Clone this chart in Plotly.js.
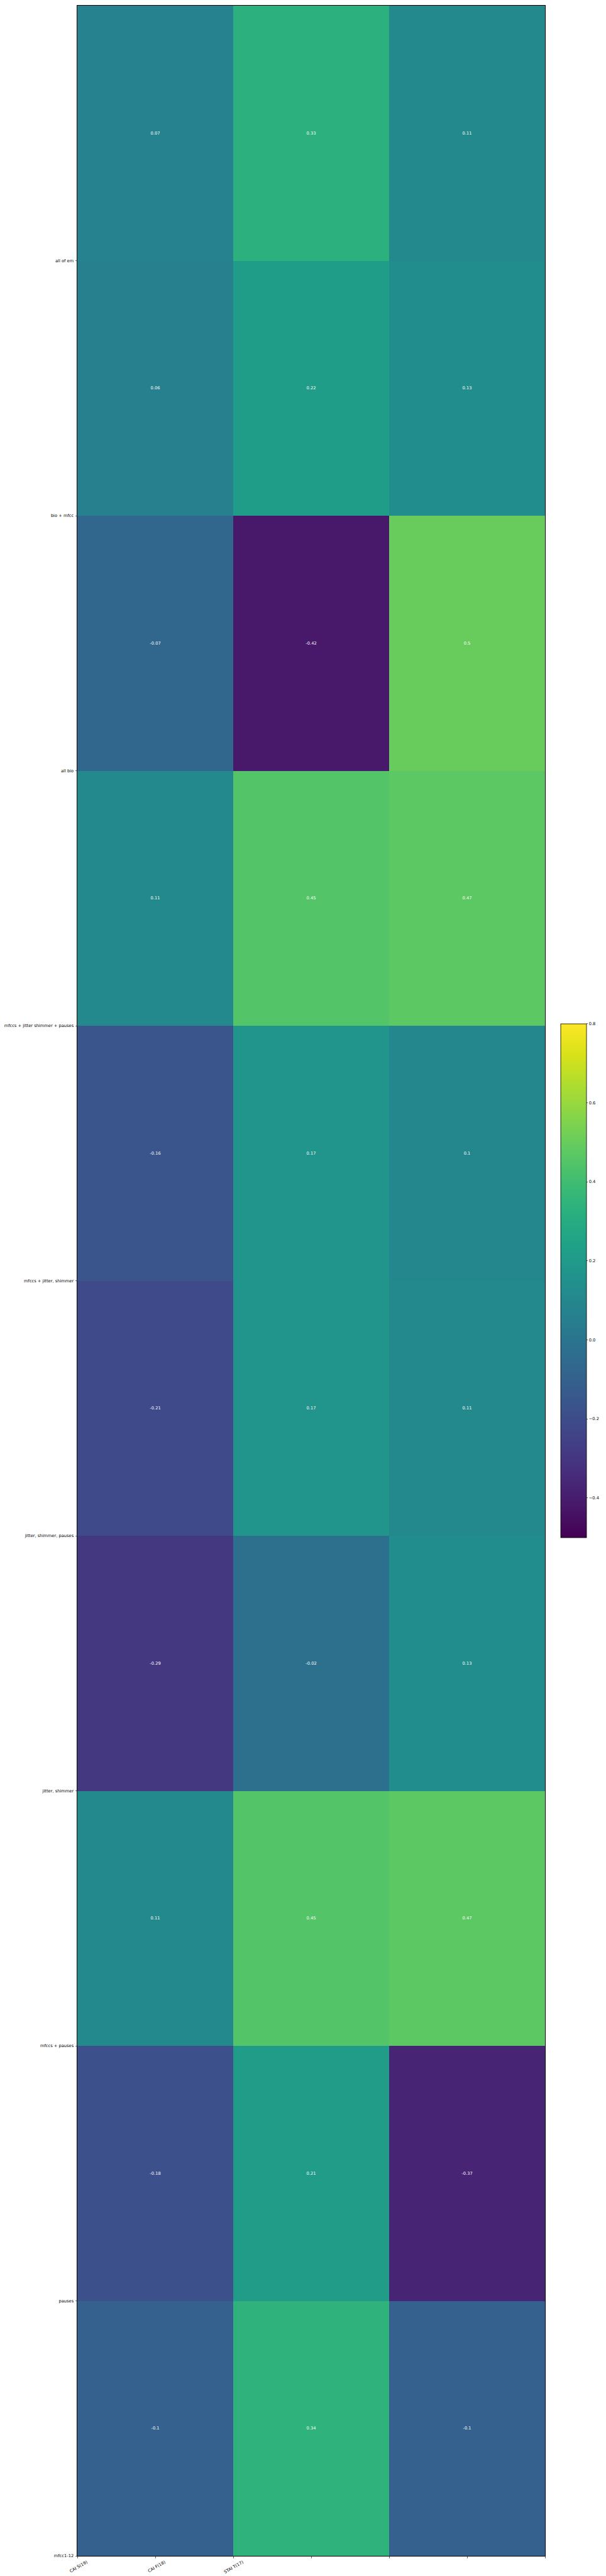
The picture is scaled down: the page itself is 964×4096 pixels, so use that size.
<!DOCTYPE html>
<html>
<head>
<meta charset="utf-8">
<script src="https://cdn.plot.ly/plotly-3.0.1.min.js"></script>
<style>html,body{margin:0;padding:0;background:#fff;}#chart{width:964px;height:4096px;}</style>
</head>
<body>
<div id="chart"></div>
<script>
// ---- data ----
const xLabels = ['CAI S(19)', 'CAI F(18)', 'STAI T(17)'];
const yLabels = [
  'all of em',
  'bio + mfcc',
  'all bio',
  'mfccs + jitter shimmer + pauses',
  'mfccs + jitter, shimmer',
  'jitter, shimmer, pauses',
  'jitter, shimmer',
  'mfccs + pauses',
  'pauses',
  'mfcc1-12'
];
const caiS  = [0.07, 0.06, -0.07, 0.11, -0.16, -0.21, -0.29, 0.11, -0.18, -0.1];
const caiF  = [0.33, 0.22, -0.42, 0.45, 0.17, 0.17, -0.02, 0.45, 0.21, 0.34];
const staiT = [0.11, 0.13, 0.5, 0.47, 0.1, 0.11, 0.13, 0.47, -0.37, -0.1];
const colorbarTicks = [-0.4, -0.2, 0.0, 0.2, 0.4, 0.6, 0.8];

// ---- build matrix ----
const z = yLabels.map((_, i) => [caiS[i], caiF[i], staiT[i]]);
const txt = z.map(r => r.map(v => String(v)));

const S = 0.669;
const W = 964, H = 4096;
const plotL = 184 * S, plotR = 1299 * S, plotT = 14 * S, plotB = 6074 * S;
const plotW = plotR - plotL, plotH = plotB - plotT;
const fs = 6.7;
const font = 'DejaVu Sans, sans-serif';

// x ticks at cell edges and midpoints, labels on the first three
const xTickVals = [];
for (let k = 0; k <= xLabels.length * 2; k++) xTickVals.push(k / 2);
const xTickText = xTickVals.map((v, k) => (k < xLabels.length ? xLabels[k] : ''));
const yTickVals = yLabels.map((_, i) => i + 1);

const trace = {
  type: 'heatmap',
  z: z,
  x0: 0.5, dx: 1,
  y0: 0.5, dy: 1,
  text: txt,
  texttemplate: '%{text}',
  textfont: {family: font, size: fs, color: '#ffffff'},
  colorscale: 'Viridis',
  zmin: -0.5, zmax: 0.8,
  hoverinfo: 'skip',
  colorbar: {
    x: (1337 * S - plotL) / plotW, xanchor: 'left',
    y: 1 - ((2433 + 3654) / 2 * S - plotT) / plotH, yanchor: 'middle',
    len: (3654 - 2433) * S / plotH, lenmode: 'fraction',
    thickness: (1398 - 1337) * S, thicknessmode: 'pixels',
    xpad: 0, ypad: 0,
    outlinewidth: 0.8, outlinecolor: '#000',
    tickvals: colorbarTicks,
    tickformat: '.1f',
    ticks: 'outside', ticklen: 2.5, tickwidth: 0.6, tickcolor: '#000',
    tickfont: {family: font, size: fs, color: '#000'}
  }
};

const layout = {
  width: W, height: H,
  margin: {l: plotL, r: W - plotR, t: plotT, b: H - plotB, pad: 0},
  paper_bgcolor: '#fff', plot_bgcolor: '#fff',
  showlegend: false,
  xaxis: {
    range: [0, xLabels.length],
    tickmode: 'array', tickvals: xTickVals, ticktext: xTickText,
    tickangle: -30,
    ticklabelshift: 15,
    ticklabelstandoff: 0,
    ticks: 'outside', ticklen: 2.5, tickwidth: 0.6, tickcolor: '#000',
    tickfont: {family: font, size: fs, color: '#000'},
    showgrid: false, zeroline: false,
    showline: true, linecolor: '#000', linewidth: 1, mirror: true,
    automargin: false, fixedrange: true
  },
  yaxis: {
    range: [yLabels.length, 0],
    tickmode: 'array', tickvals: yTickVals, ticktext: yLabels,
    ticks: 'outside', ticklen: 2.5, tickwidth: 0.6, tickcolor: '#000',
    ticklabelstandoff: 1,
    tickfont: {family: font, size: fs, color: '#000'},
    showgrid: false, zeroline: false,
    showline: true, linecolor: '#000', linewidth: 1, mirror: true,
    automargin: false, fixedrange: true
  }
};

Plotly.newPlot('chart', [trace], layout, {staticPlot: true, displayModeBar: false});
</script>
</body>
</html>
